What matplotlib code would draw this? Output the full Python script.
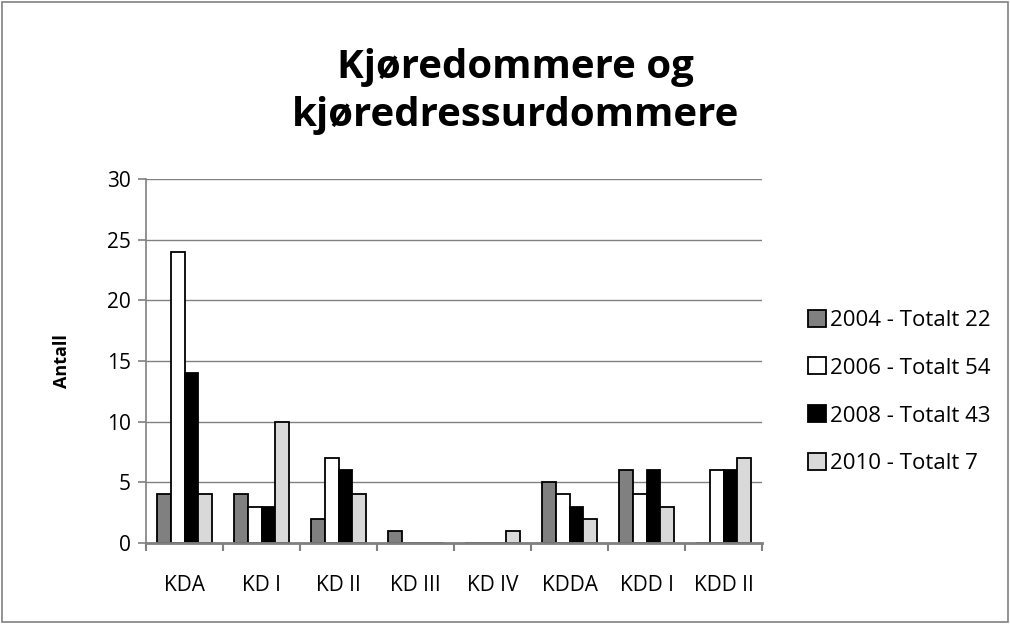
import matplotlib
matplotlib.use("Agg")
import matplotlib.pyplot as plt
import numpy as np
from matplotlib.patches import Rectangle

categories = ["KDA", "KD I", "KD II", "KD III", "KD IV", "KDDA", "KDD I", "KDD II"]
series_names = ["2004 - Totalt 22", "2006 - Totalt 54", "2008 - Totalt 43", "2010 - Totalt 7"]
v2004 = [4, 4, 2, 1, 0, 5, 6, 0]
v2006 = [24, 3, 7, 0, 0, 4, 4, 6]
v2008 = [14, 3, 6, 0, 0, 3, 6, 6]
v2010 = [4, 10, 4, 0, 1, 2, 3, 7]
colors = ["#808080", "#ffffff", "#000000", "#d9d9d9"]
yticks = [0, 5, 10, 15, 20, 25, 30]

plt.rcParams['font.family'] = ['Open Sans', 'DejaVu Sans']

fig = plt.figure(figsize=(10.1, 6.24), dpi=100)
fig.patches.append(Rectangle((0.002, 0.003), 0.996, 0.994, transform=fig.transFigure,
                             fill=False, edgecolor="#808080", linewidth=1.2))
ax = fig.add_axes([0.1446, 0.1298, 0.61, 0.5833])

x = np.arange(len(categories))
w = 0.178
data = [v2004, v2006, v2008, v2010]
for i, (vals, c, name) in enumerate(zip(data, colors, series_names)):
    ax.bar(x + (i - 1.5) * w, vals, width=w, color=c, edgecolor="black",
           linewidth=1.3, label=name, zorder=3)

ax.set_xlim(-0.5, len(categories) - 0.5)
ax.set_ylim(0, 30)
ax.set_yticks(yticks)
ax.set_yticklabels([str(t) for t in yticks], fontsize=15)
ax.yaxis.grid(True, color="#808080", linewidth=1.0, zorder=0)
ax.set_axisbelow(True)

ax.set_xticks(x)
ax.set_xticklabels(categories, fontsize=15)
ax.tick_params(axis='x', length=0, pad=23)
ax.set_xticks(np.arange(-0.5, len(categories)), minor=True)
ax.tick_params(axis='x', which='minor', length=6, width=1.5, color="#808080", direction='out')
ax.tick_params(axis='y', length=6, width=1.2, color="#808080", direction='out', pad=5)

for s in ["top", "right"]:
    ax.spines[s].set_visible(False)
ax.spines["left"].set_color("#808080")
ax.spines["left"].set_linewidth(1.2)
ax.spines["bottom"].set_color("#808080")
ax.spines["bottom"].set_linewidth(2)
ax.spines["bottom"].set_zorder(4)

ax.set_ylabel("Antall", fontsize=13, fontweight="bold", labelpad=26)

fig.text(0.51, 0.853, "Kjøredommere og\nkjøredressurdommere", ha="center", va="center",
         fontsize=29, fontweight="bold", linespacing=1.3)

ax.legend(loc="center left", bbox_to_anchor=(1.06, 0.415), frameon=False,
          fontsize=16, handlelength=0.8, handleheight=0.8, handletextpad=0.2,
          labelspacing=1.2, borderaxespad=0)

fig.savefig("out.png", dpi=100)
